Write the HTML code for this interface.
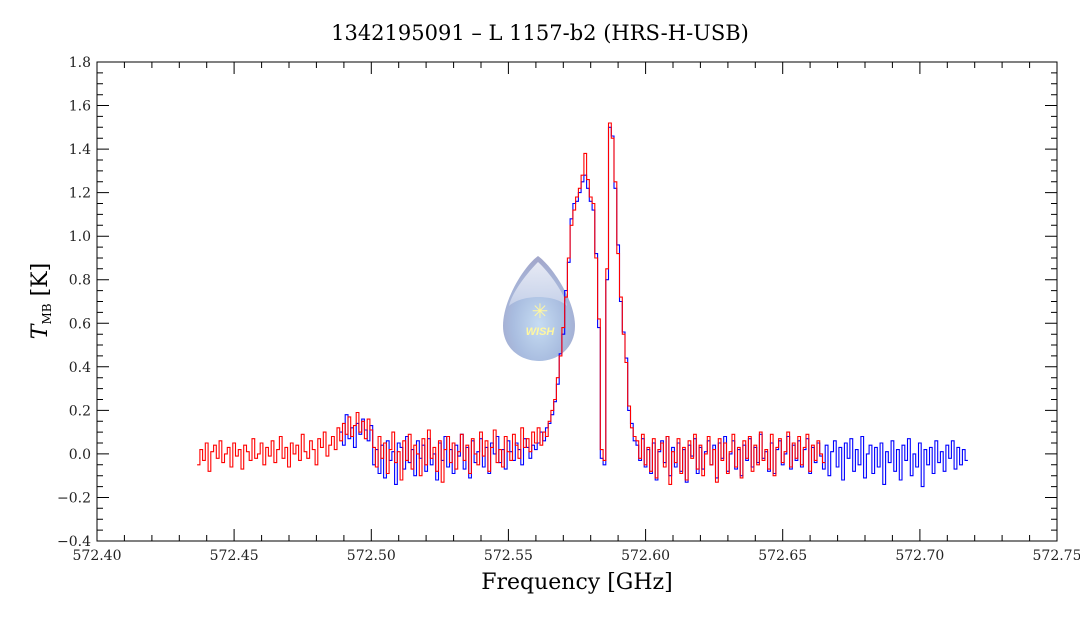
<!DOCTYPE html>
<html><head><meta charset="utf-8"><style>
html,body{margin:0;padding:0;background:#fff;}
svg{display:block;font-family:"DejaVu Serif","Liberation Serif",serif;}
</style></head><body>
<svg id="chart" width="1080" height="618" viewBox="0 0 1080 618" xmlns="http://www.w3.org/2000/svg">
<defs>
<radialGradient id="dropg" cx="0.5" cy="0.65" r="0.6">
<stop offset="0" stop-color="#c6dcf2"/><stop offset="0.6" stop-color="#a9bde0"/><stop offset="1" stop-color="#a3a8cc"/>
</radialGradient>
<linearGradient id="hl" x1="0" y1="0" x2="0" y2="1"><stop offset="0" stop-color="#eef0f8"/><stop offset="1" stop-color="#c9d3ea"/></linearGradient>
</defs>
<text x="540" y="40" font-size="21" text-anchor="middle">1342195091 – L 1157-b2 (HRS-H-USB)</text>
<g>
<path d="M538,256 C552,266 575,300 575,326 C575,348 558,361 539,361 C520,361 503,348 503,326 C503,300 524,266 538,256 Z" fill="url(#dropg)"/>
<path d="M538,262 C549,272 565,294 567,306 C555,294 522,294 509,306 C512,292 528,272 538,262 Z" fill="url(#hl)" opacity="0.9"/>
<text x="540" y="318" font-size="20" fill="#fff7a0" text-anchor="middle" font-family="DejaVu Sans,sans-serif">✳</text>
<text x="540" y="335" font-size="11" font-weight="bold" font-style="italic" fill="#fff7a0" text-anchor="middle" font-family="Liberation Sans,sans-serif">WISH</text>
</g>
<g id="series"></g>
<g id="axes"></g>
<text x="577" y="589" font-size="22" text-anchor="middle">Frequency [GHz]</text>
<text transform="translate(47,301) rotate(-90)" font-size="22" text-anchor="middle"><tspan font-style="italic">T</tspan><tspan font-size="12" dy="4">MB</tspan><tspan dy="-4"> [K]</tspan></text>
</svg>
<script>
const xTicks=["572.40","572.45","572.50","572.55","572.60","572.65","572.70","572.75"];
const yTicks=["-0.4","-0.2","0.0","0.2","0.4","0.6","0.8","1.0","1.2","1.4","1.6","1.8"];
const redStart=572.437, blueStart=572.489, chanStep=0.001;
const redT=[-0.05,0.02,-0.03,0.05,-0.08,0.01,0.04,-0.02,0.06,-0.04,0.00,0.03,-0.06,0.05,-0.01,0.02,-0.07,0.04,0.01,-0.03,0.07,-0.02,0.00,0.05,-0.05,0.03,-0.01,0.06,-0.04,0.02,0.08,-0.02,0.03,-0.06,0.05,0.00,0.04,-0.03,0.09,0.01,-0.02,0.06,0.02,-0.05,0.07,0.03,0.10,-0.01,0.04,0.08,0.02,
0.12,0.06,0.14,0.09,0.17,0.08,0.13,0.19,0.10,0.15,0.07,0.16,0.11,
0.03,-0.06,0.08,-0.02,0.05,-0.09,0.02,0.10,-0.04,0.01,-0.12,0.06,-0.03,0.09,-0.07,0.04,0.00,-0.10,0.07,-0.05,0.11,-0.02,0.03,-0.08,0.06,-0.13,0.02,0.08,-0.04,0.05,-0.07,0.01,0.09,-0.03,0.04,-0.09,0.07,0.00,-0.05,0.10,-0.01,0.06,-0.08,0.03,0.11,-0.04,0.02,-0.06,0.08,0.01,-0.03,0.09,0.04,-0.02,0.12,0.03,0.07,0.01,0.10,
0.05,0.12,0.04,0.10,0.08,0.15,0.20,0.25,0.35,0.45,0.58,0.72,0.90,1.05,1.12,1.18,1.22,1.28,1.38,1.26,1.18,1.15,0.90,0.62,0.02,-0.03,0.85,1.52,1.45,1.25,0.92,0.72,0.55,0.42,0.22,0.12,0.08,
0.06,-0.02,0.09,-0.05,0.03,-0.08,0.07,-0.11,0.02,0.05,-0.06,0.08,-0.14,0.01,-0.04,0.07,-0.09,0.03,-0.12,0.06,-0.02,0.09,-0.07,0.04,-0.10,0.00,0.08,-0.05,0.02,-0.13,0.07,-0.03,0.05,-0.09,0.01,0.09,-0.06,0.03,-0.11,0.06,-0.02,0.08,-0.08,0.04,-0.05,0.10,-0.03,0.02,-0.07,0.09,-0.10,0.03,0.07,-0.04,0.01,0.10,-0.06,0.05,-0.02,0.08,-0.05,0.03,0.09,-0.08,0.04,-0.03,0.06,0.00,-0.04];
const blueT=[0.10,0.04,0.18,0.07,0.12,0.03,0.14,0.09,0.16,0.11,0.06,0.13,
-0.05,0.02,-0.09,0.04,-0.11,0.06,-0.03,0.01,-0.14,0.05,0.03,-0.07,0.08,-0.04,0.02,-0.10,0.06,-0.02,0.04,-0.08,0.07,-0.05,0.00,-0.12,0.05,-0.03,0.08,-0.06,0.02,-0.09,0.04,-0.01,0.09,-0.07,0.03,-0.11,0.06,-0.04,0.01,0.07,-0.06,0.03,-0.09,0.05,0.00,0.08,-0.04,0.02,-0.07,0.06,0.01,-0.03,0.05,0.02,-0.05,0.07,0.03,-0.02,0.04,
0.02,0.05,0.10,0.06,0.12,0.14,0.18,0.24,0.32,0.46,0.55,0.75,0.88,1.08,1.15,1.16,1.20,1.25,1.28,1.22,1.16,1.12,0.92,0.58,-0.02,-0.05,0.80,1.50,1.46,1.22,0.96,0.70,0.56,0.44,0.20,0.14,0.06,
0.04,-0.03,0.07,-0.06,0.02,-0.09,0.05,-0.12,0.01,0.06,-0.04,0.08,-0.10,0.03,-0.06,0.05,-0.08,0.02,-0.13,0.04,-0.01,0.07,-0.09,0.03,-0.07,0.01,0.06,-0.05,0.04,-0.11,0.05,-0.02,0.08,-0.08,0.00,0.06,-0.07,0.02,-0.10,0.04,-0.03,0.07,-0.06,0.03,-0.04,0.09,-0.02,0.01,-0.08,0.05,-0.09,0.02,0.06,-0.05,0.00,0.08,-0.07,0.04,-0.03,0.06,-0.06,0.02,0.07,-0.09,0.03,-0.04,0.05,-0.01,-0.07,0.04,-0.10,0.01,0.06,-0.06,0.03,-0.12,0.05,-0.02,0.07,-0.08,0.02,-0.05,0.08,-0.11,0.00,0.04,-0.09,0.03,-0.06,0.05,-0.14,0.01,-0.04,0.06,-0.08,0.02,-0.12,0.04,-0.03,0.07,-0.10,0.00,-0.06,0.05,-0.15,0.02,-0.05,0.03,-0.09,0.06,-0.04,0.01,-0.08,0.04,-0.02,0.06,-0.07,0.03,-0.05,0.02,-0.03];

const L=97,R=1057,T=62,B=541, xMin=572.40,xMax=572.75,yMin=-0.4,yMax=1.8;
const xs=f=>L+(f-xMin)/(xMax-xMin)*(R-L);
const ys=v=>B-(v-yMin)/(yMax-yMin)*(B-T);
const NS="http://www.w3.org/2000/svg";
function mk(tag,attrs,parent){const e=document.createElementNS(NS,tag);for(const k in attrs)e.setAttribute(k,attrs[k]);parent.appendChild(e);return e;}
const series=document.getElementById('series'), axes=document.getElementById('axes');
function drawSeries(start,vals,color,name){
  let d='';
  vals.forEach((v,i)=>{const x0=xs(start+(i-0.5)*chanStep),x1=xs(start+(i+0.5)*chanStep),y=ys(v);
    d+=(i===0?'M':'L')+x0.toFixed(1)+','+y.toFixed(1)+'L'+x1.toFixed(1)+','+y.toFixed(1);});
  const p=mk('path',{d:d,fill:'none',stroke:color,'stroke-width':1.1},series);
  
  
}
drawSeries(blueStart,blueT,'#0000ff','blue-spectrum');
drawSeries(redStart,redT,'#ff0000','red-spectrum');
const fr=mk('rect',{x:L,y:T,width:R-L,height:B-T,fill:'none',stroke:'#000','stroke-width':1},axes);


let td='';
for(let k=0;k<=35;k++){const f=xMin+k*0.01,x=xs(f).toFixed(1),len=k%5===0?12:6;
  td+=`M${x},${B}v${-len}M${x},${T}v${len}`;}
for(let k=0;k<=44;k++){const v=yMin+k*0.05,y=ys(v).toFixed(1),len=k%4===0?12:6;
  td+=`M${L},${y}h${len}M${R},${y}h${-len}`;}
const tk=mk('path',{d:td,stroke:'#000','stroke-width':1,fill:'none'},axes);


xTicks.forEach(s=>{const t=mk('text',{x:xs(parseFloat(s)),y:B+19,'font-size':14,'text-anchor':'middle',fill:'#222'},axes);t.textContent=s;
  
  });
yTicks.forEach(s=>{const t=mk('text',{x:L-6,y:ys(parseFloat(s))+5,'font-size':14,'text-anchor':'end',fill:'#222'},axes);t.textContent=s.replace('-','\u2212');
  
  });
</script>
</body></html>
